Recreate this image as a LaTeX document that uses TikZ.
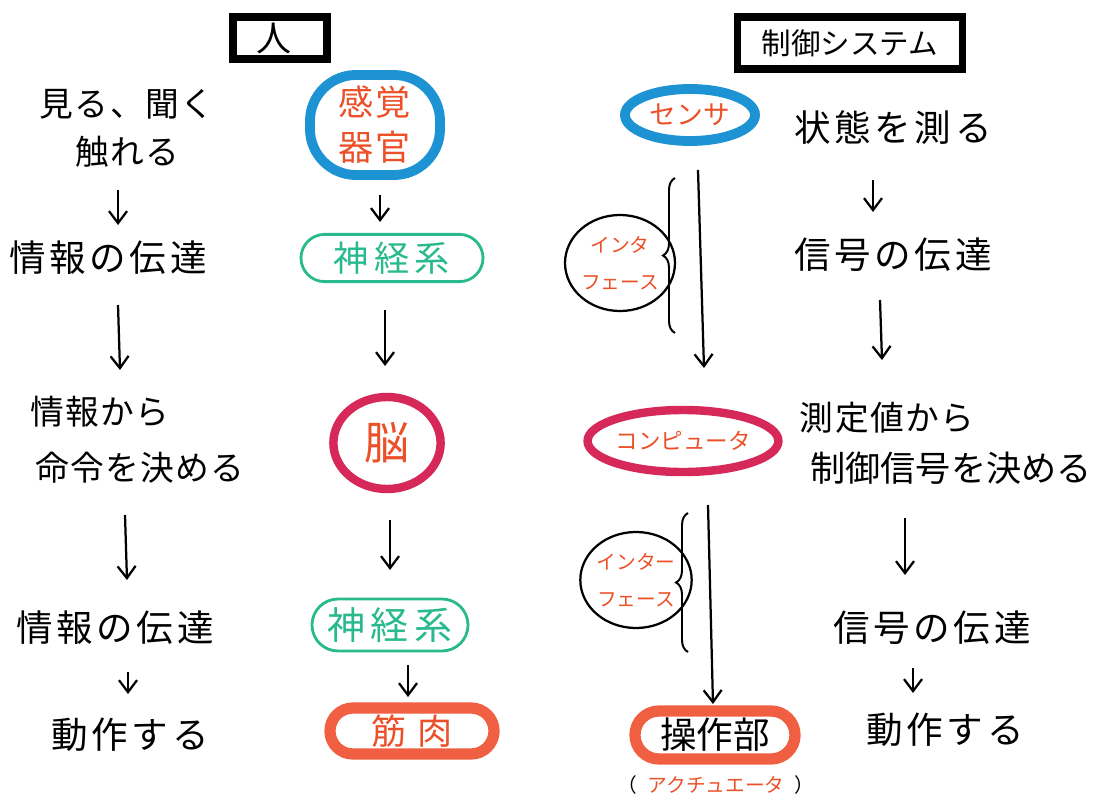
\documentclass[tikz,border=0pt]{standalone}
\usepackage{fontspec}
\setmainfont{Noto Sans CJK JP}
\usetikzlibrary{arrows.meta,shapes.geometric,shapes.misc,decorations.pathreplacing,calc}
\definecolor{ringblue}{HTML}{1E93D3}
\definecolor{ringgreen}{HTML}{28B98C}
\definecolor{ringred}{HTML}{D7285A}
\definecolor{ringorange}{HTML}{F05F41}
\definecolor{txtorange}{HTML}{EB5028}

\begin{document}
\begin{tikzpicture}[x=0.025cm,y=-0.025cm,
  txt/.style={inner sep=0pt,outer sep=0pt,align=center,
    font=\fontsize{26}{34}\selectfont\addfontfeature{LetterSpace=10}},
  tight/.style={font=\fontsize{24}{34}\selectfont\addfontfeature{LetterSpace=4}},
  arr/.style={line width=1.6pt,-{Straight Barb[length=3mm,width=4.5mm]}},
  ring/.style={draw,inner sep=0pt,outer sep=0pt,align=center},
  titlebox/.style={draw,line width=5pt,inner sep=0pt,outer sep=0pt},
  intf/.style={ellipse,draw,line width=1.6pt,inner sep=0pt,align=center,
    minimum width=2.15cm,minimum height=2.4cm,text=txtorange,
    font=\fontsize{14}{26}\selectfont},
  brace/.style={decorate,decoration={brace,amplitude=0.3cm},line width=1.4pt}]
\useasboundingbox (0,0) rectangle (1106,808);

% titles
\node[titlebox,minimum width=2.35cm,minimum height=1.05cm] (human) at (280,38) {};
\node[inner sep=0pt,font=\fontsize{25}{25}\selectfont] (humantxt) at (274,39) {人};
\node[titlebox,minimum width=5.6cm,minimum height=1.3cm,font=\fontsize{21}{21}\selectfont] (system) at (850,43) {制御システム};

% human side, left column
\node[txt,tight] (see) at (127,128) {見る、聞く\\触れる};
\node[txt] (info1) at (108,258) {情報の伝達};
\node[txt,tight] (decide1) at (100,412) {情報から};
\node[txt,tight] (decide2) at (140,468) {命令を決める};
\node[txt] (info2) at (115,628) {情報の伝達};
\node[txt] (act) at (130,735) {動作する};

\draw[arr] ($(see)+(-9,62)$) -- ($(info1)+(10,-33)$);
\draw[arr] ($(info1)+(10,47)$) -- ($(decide1)+(20,-42)$);
\draw[arr] ($(decide2)+(-15,47)$) -- ($(info2)+(12,-48)$);
\draw[arr] ($(info2)+(13,44)$) -- ($(act)+(-2,-41)$);

% human side, organs
\node[ring,rectangle,rounded corners=1.15cm,draw=ringblue,line width=7pt,
  minimum width=3.25cm,minimum height=2.5cm,text=txtorange,
  font=\fontsize{25}{32}\selectfont\addfontfeature{LetterSpace=5}] (sense) at (375,125) {感覚\\器官};
\node[ring,rounded rectangle,draw=ringgreen,line width=2pt,
  minimum width=4.55cm,minimum height=1.18cm,text=ringgreen,
  font=\fontsize{25}{25}\selectfont\addfontfeature{LetterSpace=15}] (nerve1) at (392,258) {神経系};
\node[ring,ellipse,draw=ringred,line width=6pt,
  minimum width=2.68cm,minimum height=2.3cm,text=txtorange,
  font=\fontsize{32}{32}\selectfont] (brain) at (387,443) {脳};
\node[ring,rounded rectangle,draw=ringgreen,line width=2pt,
  minimum width=3.9cm,minimum height=1.3cm,text=ringgreen,
  font=\fontsize{27}{27}\selectfont\addfontfeature{LetterSpace=15}] (nerve2) at (390,625) {神経系};
\node[ring,rounded rectangle,draw=ringorange,line width=8pt,
  minimum width=4.1cm,minimum height=1.15cm,text=txtorange,
  font=\fontsize{25}{25}\selectfont\addfontfeature{LetterSpace=30}] (muscle) at (412,731) {筋肉};

\draw[arr] ($(sense)+(5,70)$) -- ($(nerve1)+(-12,-36)$);
\draw[arr] ($(nerve1)+(-7,52)$) -- ($(brain)+(-2,-77)$);
\draw[arr] ($(brain)+(3,77)$) -- ($(nerve2)+(0,-55)$);
\draw[arr] ($(nerve2)+(18,40)$) -- ($(muscle)+(-4,-34)$);

% control system, parts
\node[ring,ellipse,draw=ringblue,line width=7pt,
  minimum width=3.25cm,minimum height=1.3cm,text=txtorange,
  font=\fontsize{19}{19}\selectfont] (sensor) at (690,115) {センサ};
\node[ring,ellipse,draw=ringred,line width=6pt,
  minimum width=4.3cm,minimum height=1.55cm,text=txtorange,
  font=\fontsize{16}{16}\selectfont] (computer) at (683,441) {コンピュータ};
\node[ring,rounded rectangle,draw=ringorange,line width=8pt,
  minimum width=4cm,minimum height=1.2cm,
  font=\fontsize{26}{26}\selectfont] (actuator) at (715,735) {操作部};
\node[inner sep=0pt,font=\fontsize{14}{14}\selectfont] (actuatorsub) at (716,785)
  {（\hspace{0.25cm}{\color{txtorange}アクチュエータ}\hspace{0.25cm}）};

\draw[arr] ($(sensor)+(8,55)$) -- ($(computer)+(21,-73)$);
\draw[arr] ($(computer)+(25,64)$) -- ($(actuator)+(-2,-31)$);

% interfaces
\node[intf] (intf1) at (620,263) {インタ\\フェース};
\node[intf] (intf2) at (636,580) {インター\\フェース};
\draw[brace] (675,333) -- (675,178);
\draw[brace] (688,652) -- (688,513);

% control system, right column
\node[txt] (measure) at (893,128) {状態を測る};
\node[txt] (sig1) at (893,255) {信号の伝達};
\node[txt,tight] (decideR1) at (887,418) {測定値から};
\node[txt,font=\fontsize{25}{34}\selectfont] (decideR2) at (951,468) {制御信号を決める};
\node[txt] (sig2) at (932,628) {信号の伝達};
\node[txt] (actR) at (945,730) {動作する};

\draw[arr] ($(measure)+(-20,52)$) -- ($(sig1)+(-20,-43)$);
\draw[arr] ($(sig1)+(-13,45)$) -- ($(decideR1)+(-5,-58)$);
\draw[arr] ($(decideR2)+(-46,50)$) -- ($(sig2)+(-27,-53)$);
\draw[arr] ($(sig2)+(-19,40)$) -- ($(actR)+(-32,-37)$);
\end{tikzpicture}
\end{document}
